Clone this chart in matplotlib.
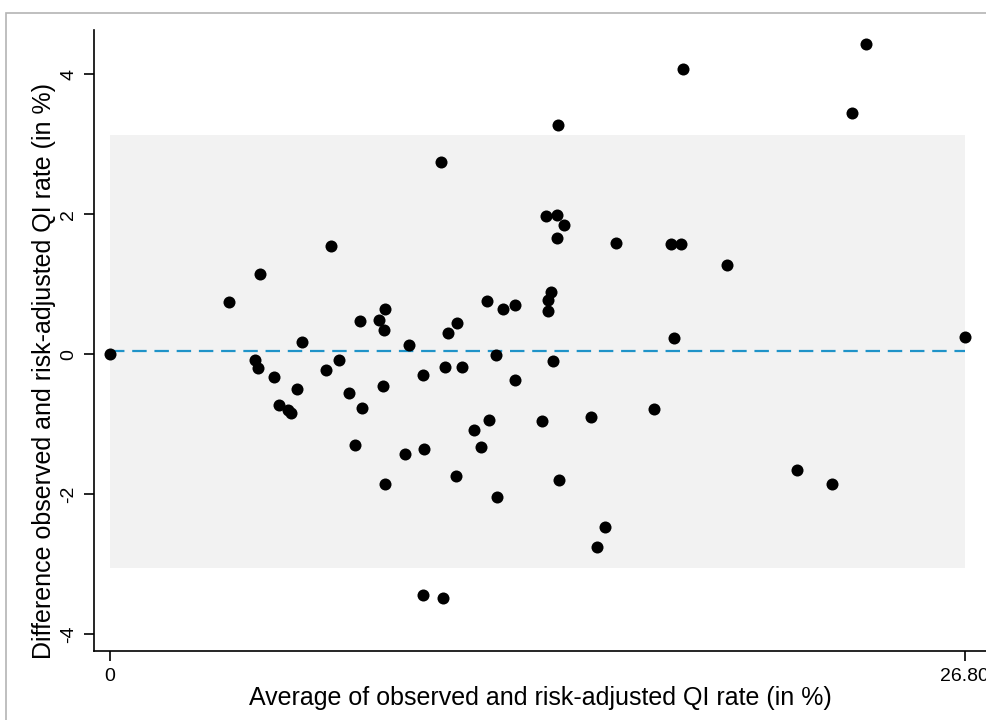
import matplotlib
matplotlib.use('Agg')
import matplotlib.pyplot as plt
from matplotlib.patches import Rectangle

plt.rcParams['font.family'] = ['Liberation Sans', 'DejaVu Sans']

# average of observed and risk-adjusted rate (x) and their difference (y)
avg_rate = [0.00, 3.72, 4.54, 4.64, 4.70, 5.13, 5.30, 5.58, 5.68, 5.88,
            6.02, 6.78, 6.93, 7.18, 7.51, 7.68, 7.84, 7.91, 8.43, 8.56,
            8.59, 8.61, 8.61, 9.24, 9.38, 9.81, 9.84, 9.82, 10.39, 10.45,
            10.52, 10.61, 10.89, 10.86, 11.04, 11.43, 11.62, 11.81, 11.88, 12.09,
            12.14, 12.31, 12.70, 12.69, 13.54, 13.67, 13.72, 13.73, 13.84, 13.89,
            14.02, 14.03, 14.06, 14.08, 14.24, 15.08, 15.28, 15.53, 15.88, 17.06,
            17.59, 17.70, 17.89, 17.98, 19.36, 21.53, 22.65, 23.28, 23.72, 26.80]
diff_rate = [0.00, 0.75, -0.09, -0.20, 1.15, -0.32, -0.72, -0.80, -0.84, -0.50,
             0.17, -0.23, 1.54, -0.08, -0.55, -1.30, 0.47, -0.77, 0.49, -0.45,
             0.34, 0.64, -1.85, -1.43, 0.13, -0.30, -1.35, -3.44, 2.74, -3.49,
             -0.19, 0.30, 0.44, -1.74, -0.18, -1.09, -1.32, 0.76, -0.94, -0.01,
             -2.04, 0.64, 0.70, -0.37, -0.96, 1.97, 0.62, 0.77, 0.89, -0.10,
             1.99, 1.66, 3.28, -1.80, 1.84, -0.90, -2.76, -2.47, 1.59, -0.78,
             1.57, 0.23, 1.57, 4.07, 1.28, -1.65, -1.85, 3.45, 4.43, 0.25]

mean_diff = 0.04
upper_loa = 3.13
lower_loa = -3.05
x_min, x_max = 0.0, 26.80

fig = plt.figure(figsize=(9.87, 7.2), dpi=100)

# outer graph border
fig.patches.append(Rectangle((6 / 987, -0.1), 1.1, 1.1 - 13 / 720,
                             transform=fig.transFigure, fill=False,
                             edgecolor='#b4b4b4', linewidth=1.2))

ax = fig.add_axes([94 / 987, 1 - 651 / 720, 1 - 94 / 987, (651 - 30) / 720])

# limits of agreement band
ax.fill_between([x_min, x_max], lower_loa, upper_loa, color='#f2f2f2',
                linewidth=0, zorder=1)
ax.plot([x_min, x_max], [mean_diff, mean_diff], color='#1f93c8',
        linewidth=1.6, dashes=(6.5, 3.5), zorder=2)
ax.scatter(avg_rate, diff_rate, s=75, color='black', linewidths=0, zorder=3)

ax.set_xlim(-0.5, 27.5)
ax.set_ylim(-4.24, 4.63)

for side in ['top', 'right']:
    ax.spines[side].set_visible(False)
for side in ['left', 'bottom']:
    ax.spines[side].set_linewidth(1.2)

ax.set_yticks([-4, -2, 0, 2, 4])
ax.set_yticklabels(['-4', '-2', '0', '2', '4'], rotation=90, va='center')
ax.set_xticks([0, 26.8])
ax.set_xticklabels(['0', '26.80'])
ax.tick_params(axis='both', length=7, width=1.2, labelsize=14, pad=5)

ax.set_xlabel('Average of observed and risk-adjusted QI rate (in %)',
              fontsize=18, labelpad=1)
ax.set_ylabel('Difference observed and risk-adjusted QI rate (in %)',
              fontsize=18, labelpad=6)
ax.yaxis.set_label_coords(-38 / 893, 0.451)

fig.savefig('out.png', dpi=100)
